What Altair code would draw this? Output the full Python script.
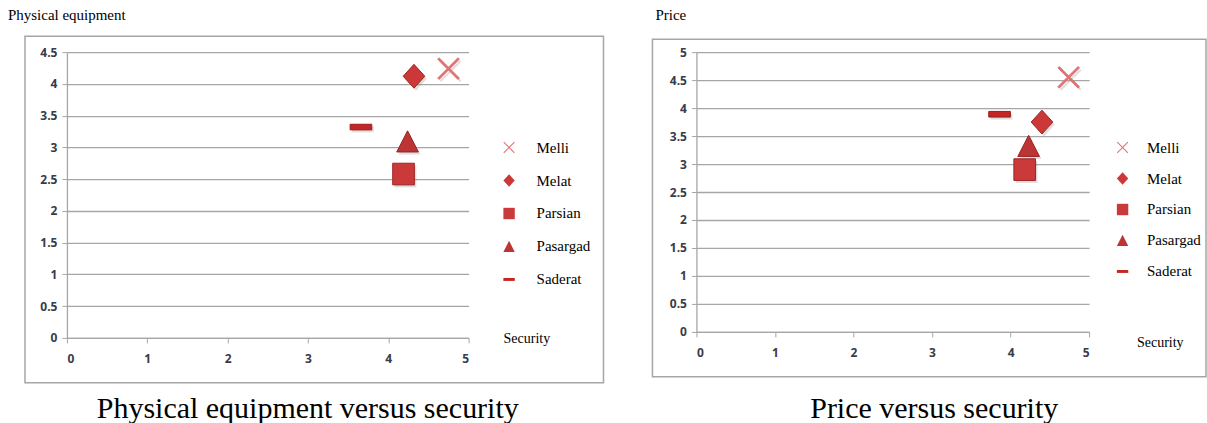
import altair as alt
import pandas as pd

# Banks compared in both scatter panels
banks = ["Melli", "Melat", "Parsian", "Pasargad", "Saderat"]

# Panel 1: physical equipment vs security
security_pe = [4.75, 4.32, 4.19, 4.24, 3.66]
physical = [4.24, 4.12, 2.58, 3.09, 3.32]

# Panel 2: price vs security
security_pr = [4.74, 4.40, 4.18, 4.23, 3.86]
price = [4.55, 3.75, 2.90, 3.32, 3.89]

x_ticks = [0, 1, 2, 3, 4, 5]
y_ticks_pe = [0, 0.5, 1, 1.5, 2, 2.5, 3, 3.5, 4, 4.5]
y_ticks_pr = [0, 0.5, 1, 1.5, 2, 2.5, 3, 3.5, 4, 4.5, 5]

bank_colors = ["#e07272", "#cc3838", "#cb3a3a", "#bd3434", "#c42626"]
edge_colors = ["#e07272", "#9e2424", "#9e2424", "#952424", "#9e1c1c"]

# Marker outlines as SVG paths in the [-1, 1] box
cross_w = 0.13
cross = (
    f"M-1,{-1 + cross_w}L{-1 + cross_w},-1L0,{-cross_w}L{1 - cross_w},-1L1,{-1 + cross_w}"
    f"L{cross_w},0L1,{1 - cross_w}L{1 - cross_w},1L0,{cross_w}L{-1 + cross_w},1"
    f"L-1,{1 - cross_w}L{-cross_w},0Z"
)
diamond = "M0,-1.1L1,0L0,1.1L-1,0Z"
square = "M-1,-1L1,-1L1,1L-1,1Z"
triangle = "M0,-1L1,0.95L-1,0.95Z"
dash = "M-1,-0.26L1,-0.26L1,0.26L-1,0.26Z"
bank_shapes = [cross, diamond, square, triangle, dash]

SERIF = "Liberation Serif"
GRID = "#a6a6a6"


def one():
    return alt.Chart(pd.DataFrame({"k": [0]}))


def label(txt, x, y, size, align="left"):
    return one().mark_text(
        text=txt, font=SERIF, fontSize=size, color="#000000",
        align=align, baseline="middle",
    ).encode(x=alt.value(x), y=alt.value(y))


def frame(x1, x2, y1, y2):
    return one().mark_rect(
        fill="transparent", stroke=GRID, strokeWidth=1.5
    ).encode(x=alt.value(x1), x2=alt.value(x2), y=alt.value(y1), y2=alt.value(y2))


def panel(xs, ys, y_max, y_ticks, y_name, width, height, legend_xy,
          frame_box, name_xy, sec_xy, caption, cap_xy, extra=None):
    df = pd.DataFrame({"Bank": banks, "Security": xs, y_name: ys})
    legend = alt.Legend(
        title=None, orient="none", legendX=legend_xy[0], legendY=legend_xy[1],
        labelFont=SERIF, labelFontSize=15, labelColor="#000000",
        symbolSize=130, symbolStrokeWidth=0, symbolOpacity=1,
        rowPadding=legend_xy[2], labelOffset=legend_xy[3], padding=0,
    )
    x_enc = alt.X("Security:Q",
                  scale=alt.Scale(domain=[0, 5], nice=False, zero=True),
                  axis=alt.Axis(values=x_ticks, grid=False, title=None,
                                labelPadding=11, tickSize=5, format="~g"))
    y_enc = alt.Y(f"{y_name}:Q",
                  scale=alt.Scale(domain=[0, y_max], nice=False),
                  axis=alt.Axis(values=y_ticks, grid=True, title=None,
                                labelPadding=5, tickSize=5, format="~g"))
    shape_enc = alt.Shape("Bank:N", scale=alt.Scale(domain=banks, range=bank_shapes),
                          sort=banks, legend=legend)
    # soft drop shadow under each marker
    shadow = alt.Chart(df).mark_point(
        filled=True, size=470, opacity=0.25, color="#7a7a7a", xOffset=2, yOffset=2.5
    ).encode(x=x_enc, y=y_enc, shape=shape_enc)
    pts = alt.Chart(df).mark_point(filled=True, size=470, opacity=1, strokeWidth=1).encode(
        x=x_enc,
        y=y_enc,
        color=alt.Color("Bank:N", scale=alt.Scale(domain=banks, range=bank_colors),
                        sort=banks, legend=legend),
        shape=shape_enc,
        stroke=alt.Stroke("Bank:N", scale=alt.Scale(domain=banks, range=edge_colors),
                          sort=banks, legend=None),
    )
    layers = []
    if extra is not None:
        layers.append(extra)
    layers += [
        frame(*frame_box),
        shadow,
        pts,
        label(y_name, name_xy[0], name_xy[1], 15),
        label("Security", sec_xy[0], sec_xy[1], 14),
        label(caption, cap_xy[0], cap_xy[1], 30, align="center"),
    ]
    return alt.layer(*layers).properties(width=width, height=height)


# Transparent backdrop covering the whole page, so the layout is 1207x423
backdrop = one().mark_rect(fill="transparent", stroke=None).encode(
    x=alt.value(-67), x2=alt.value(1140), y=alt.value(-52), y2=alt.value(371)
)

left = panel(
    security_pe, physical, 4.5, y_ticks_pe, "Physical equipment", 402, 286,
    (435, 88, 17, 20), (-42, 537, -16, 331), (-59, -37), (437, 287),
    "Physical equipment versus security", (241, 357), extra=backdrop,
)
right = panel(
    security_pr, price, 5, y_ticks_pr, "Price", 393, 280,
    (419, 88, 15, 17), (-44, 510, -13, 325), (-41, -37), (441, 291),
    "Price versus security", (238, 357),
)

chart = (
    alt.HConcatChart(hconcat=[left, right], spacing=228, bounds="flush")
    .resolve_scale(color="independent", shape="independent", stroke="independent",
                   x="independent", y="independent")
    .resolve_legend(color="independent", shape="independent")
    .properties(padding=0, background="white")
    .configure_view(stroke=None)
    .configure_axis(
        domainColor=GRID, tickColor=GRID, gridColor=GRID, gridWidth=1.3,
        domainWidth=1.3, labelFont="Open Sans", labelFontWeight="bold",
        labelFontSize=12, labelColor="#3a3a48",
    )
)

chart.save("out.html", embed_options={"renderer": "svg", "actions": False})
